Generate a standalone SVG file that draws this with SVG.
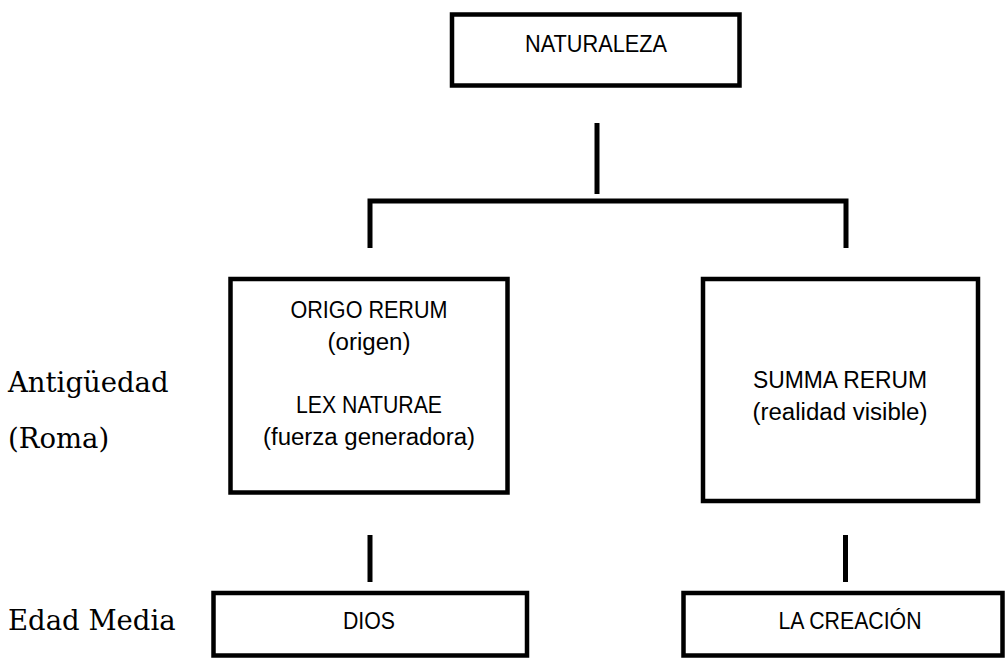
<svg xmlns="http://www.w3.org/2000/svg" width="1006" height="659" viewBox="0 0 1006 659">
  <style>
    .box { fill: #ffffff; stroke: #000000; stroke-width: 4.5; }
    .link { stroke: #000000; stroke-width: 5; fill: none; }
    .lbl { font-family: "Liberation Sans", Arial, sans-serif; font-size: 23px; fill: #000000; text-anchor: middle; }
    .era { font-family: "DejaVu Serif", "Liberation Serif", serif; font-size: 27.5px; fill: #000000; }
  </style>
  <rect width="1006" height="659" fill="#ffffff"/>

  <!-- period labels -->
  <g id="eras">
    <text class="era" x="8" y="392">Antigüedad</text>
    <text class="era" x="8" y="448">(Roma)</text>
    <text class="era" x="8" y="630">Edad Media</text>
  </g>

  <!-- connectors -->
  <g id="connectors">
    <line class="link" x1="597" y1="123" x2="597" y2="194"/>
    <polyline class="link" points="370,248 370,201 846,201 846,248"/>
    <line class="link" x1="370" y1="535" x2="370" y2="582"/>
    <line class="link" x1="845.5" y1="535" x2="845.5" y2="582"/>
  </g>

  <g id="naturaleza">
    <rect class="box" x="452" y="14.5" width="287.5" height="71"/>
    <text class="lbl" x="596" y="52" textLength="142" lengthAdjust="spacingAndGlyphs">NATURALEZA</text>
  </g>

  <g id="origo-rerum">
    <rect class="box" x="230.5" y="279" width="277" height="213.5"/>
    <text class="lbl" x="369" y="318" textLength="157" lengthAdjust="spacingAndGlyphs">ORIGO RERUM</text>
    <text class="lbl" x="369" y="350" textLength="83" lengthAdjust="spacingAndGlyphs">(origen)</text>
    <text class="lbl" x="369" y="413" textLength="146" lengthAdjust="spacingAndGlyphs">LEX NATURAE</text>
    <text class="lbl" x="369" y="445" textLength="212" lengthAdjust="spacingAndGlyphs">(fuerza generadora)</text>
  </g>

  <g id="summa-rerum">
    <rect class="box" x="703" y="279" width="275" height="222"/>
    <text class="lbl" x="840" y="388" textLength="174" lengthAdjust="spacingAndGlyphs">SUMMA RERUM</text>
    <text class="lbl" x="840" y="420" textLength="175" lengthAdjust="spacingAndGlyphs">(realidad visible)</text>
  </g>

  <g id="dios">
    <rect class="box" x="213.5" y="593" width="313.5" height="62.5"/>
    <text class="lbl" x="369" y="629" textLength="52" lengthAdjust="spacingAndGlyphs">DIOS</text>
  </g>

  <g id="la-creacion">
    <rect class="box" x="683.5" y="593" width="319" height="62.5"/>
    <text class="lbl" x="850" y="629" textLength="143" lengthAdjust="spacingAndGlyphs">LA CREACIÓN</text>
  </g>
</svg>
